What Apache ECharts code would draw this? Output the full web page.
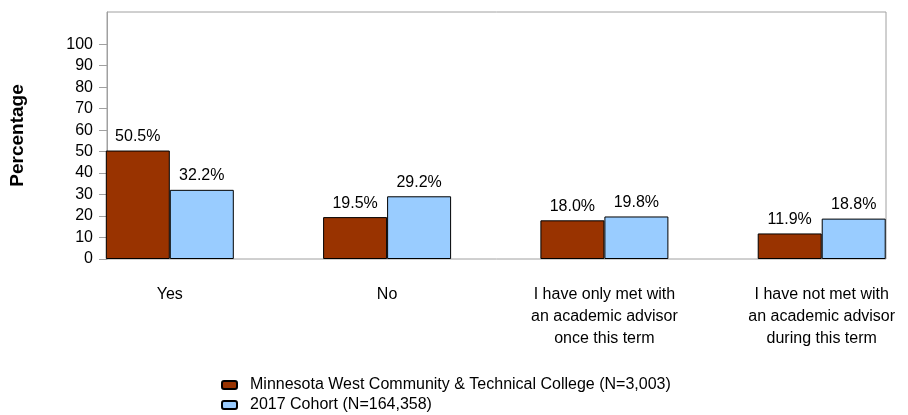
<!DOCTYPE html>
<html><head><meta charset="utf-8">
<script src="https://cdn.jsdelivr.net/npm/echarts@6/dist/echarts.min.js"></script>
<style>html,body{margin:0;padding:0;background:#fff}#c{width:908px;height:415px}</style>
</head><body><div id="c"></div>
<script>
const categories = ['Yes', 'No', 'I have only met with\nan academic advisor\nonce this term', 'I have not met with\nan academic advisor\nduring this term'];
const collegeName = 'Minnesota West Community & Technical College (N=3,003)';
const cohortName = '2017 Cohort (N=164,358)';
const collegeValues = [50.5, 19.5, 18.0, 11.9];
const cohortValues = [32.2, 29.2, 19.8, 18.8];
const yTicks = [0, 10, 20, 30, 40, 50, 60, 70, 80, 90, 100];
const yTitle = 'Percentage';

const FONT = "Arial, 'Liberation Sans', sans-serif";
const chart = echarts.init(document.getElementById('c'));
const idx = categories.map((c, i) => i);
const lbl = {show: true, position: 'top', distance: 6, color: '#000', fontSize: 16, fontFamily: FONT,
  formatter: p => p.value[1].toFixed(1) + '%'};
chart.setOption({
  animation: false,
  legend: {
    orient: 'vertical', left: 221, top: 377, padding: 0, itemWidth: 15, itemHeight: 8, itemGap: 4,
    textStyle: {fontSize: 16, fontFamily: FONT, color: '#000', padding: [0, 0, 0, 8]},
    data: [collegeName, cohortName]
  },
  grid: {left: 105, top: 12, right: 22, bottom: 156, show: true, borderColor: '#a0a0a0', borderWidth: 1},
  xAxis: {type: 'value', min: -63 / 218, max: 718.5 / 218,
    axisLine: {show: false}, axisTick: {show: false}, splitLine: {show: false},
    axisLabel: {customValues: idx, formatter: v => categories[Math.round(v)],
      color: '#000', fontSize: 16, fontFamily: FONT, lineHeight: 22, margin: 25, showMinLabel: true, showMaxLabel: true}},
  yAxis: {type: 'value', min: 0, max: 115, interval: 10,
    name: yTitle, nameLocation: 'middle', nameGap: 80, nameRotate: 90,
    nameTextStyle: {fontSize: 19, fontWeight: 'bold', fontFamily: FONT, color: '#000'},
    axisLine: {show: true, onZero: false, lineStyle: {color: '#a0a0a0', width: 1}},
    axisTick: {show: true, length: 8, customValues: yTicks, lineStyle: {color: '#a0a0a0'}},
    axisLabel: {customValues: yTicks, color: '#000', fontSize: 16, fontFamily: FONT, margin: 14},
    splitLine: {show: false}},
  series: [
    {name: collegeName, type: 'bar', data: collegeValues.map((v, i) => [i, v]),
      barWidth: 64, barGap: '0%',
      itemStyle: {color: '#993300', borderColor: '#000', borderWidth: 1}, label: lbl},
    {name: cohortName, type: 'bar', data: cohortValues.map((v, i) => [i, v]),
      barWidth: 64, barGap: '0%',
      itemStyle: {color: '#99ccff', borderColor: '#000', borderWidth: 1}, label: lbl}
  ]
});
</script></body></html>
